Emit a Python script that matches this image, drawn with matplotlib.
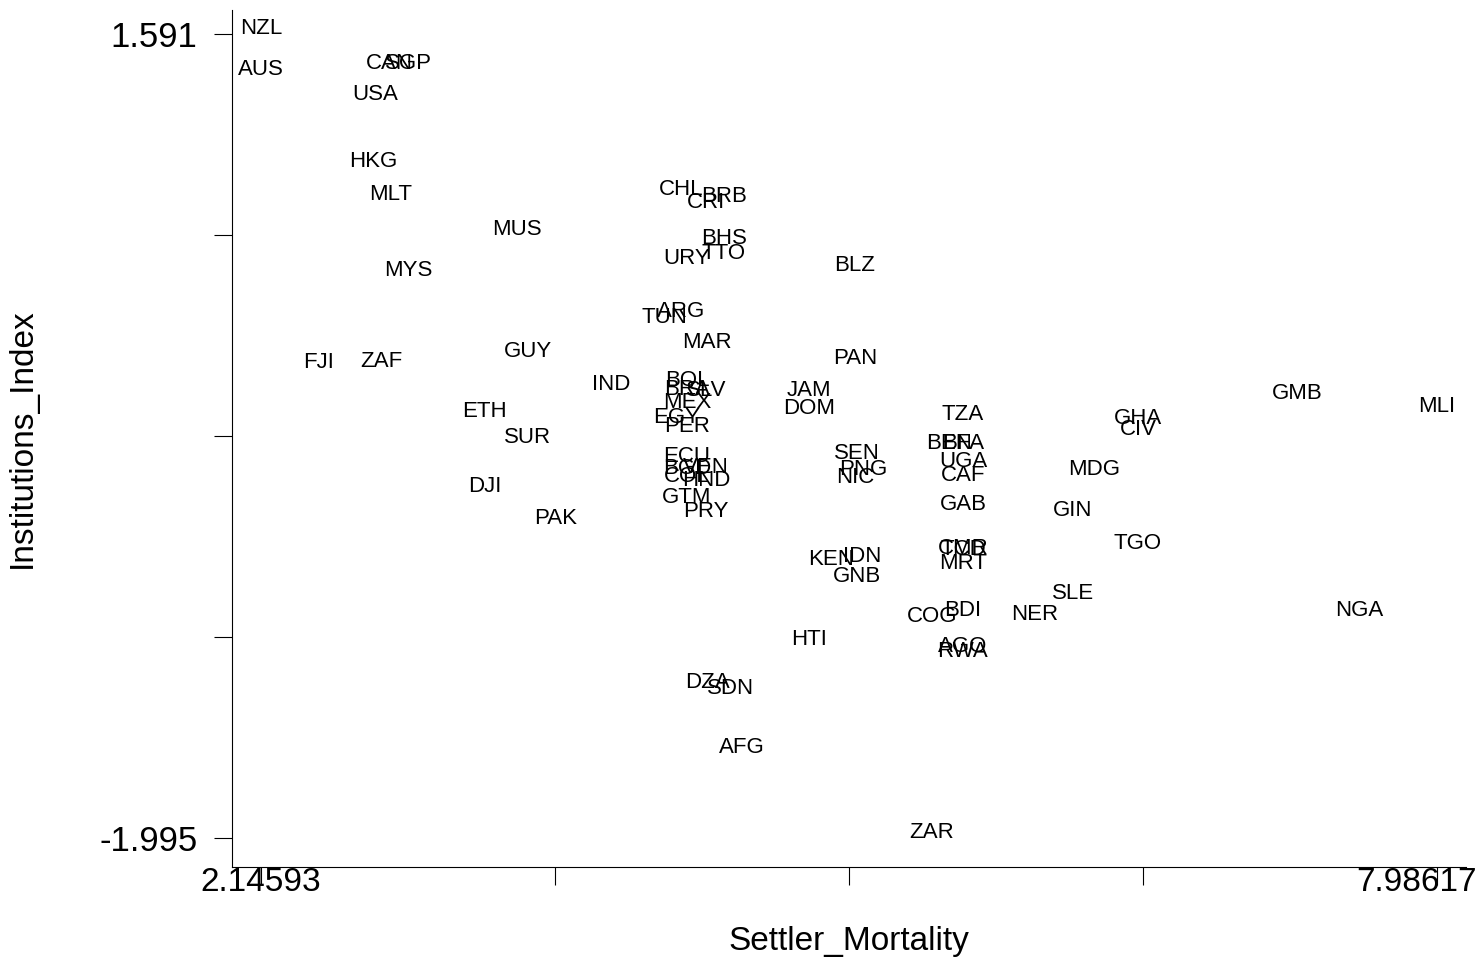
import matplotlib.pyplot as plt
from matplotlib.transforms import ScaledTranslation

plt.rcParams['font.family'] = ['Liberation Sans', 'DejaVu Sans']

# country codes with settler mortality (log) and institutions index
codes = ['NZL', 'AUS', 'CAN', 'SGP', 'USA', 'HKG', 'MLT', 'MUS', 'MYS', 'FJI',
         'ZAF', 'GUY', 'IND', 'ETH', 'SUR', 'DJI', 'PAK', 'CHL', 'BRB', 'CRI',
         'BHS', 'TTO', 'URY', 'ARG', 'TUN', 'MAR', 'BOL', 'BRA', 'SLV', 'MEX',
         'EGY', 'PER', 'ECU', 'BGD', 'VEN', 'COL', 'HND', 'GTM', 'PRY', 'BLZ',
         'PAN', 'JAM', 'DOM', 'SEN', 'PNG', 'NIC', 'KEN', 'IDN', 'GNB', 'HTI',
         'DZA', 'SDN', 'AFG', 'ZAR', 'TZA', 'BEN', 'BFA', 'UGA', 'CAF', 'GAB',
         'CMR', 'TCD', 'MRT', 'COG', 'BDI', 'NER', 'AGO', 'RWA', 'MDG', 'GIN',
         'SLE', 'TGO', 'GHA', 'CIV', 'GMB', 'MLI', 'NGA']

settler_mortality = [2.146, 2.146, 2.782, 2.876, 2.712, 2.702, 2.792, 3.417, 2.876, 2.434,
                     2.742, 3.472, 3.884, 3.258, 3.472, 3.258, 3.611, 4.232, 4.445, 4.356,
                     4.445, 4.445, 4.262, 4.232, 4.147, 4.361, 4.262, 4.262, 4.356, 4.262,
                     4.212, 4.262, 4.262, 4.262, 4.356, 4.262, 4.356, 4.262, 4.356, 5.096,
                     5.096, 4.867, 4.867, 5.106, 5.136, 5.096, 4.977, 5.131, 5.106, 4.867,
                     4.361, 4.480, 4.535, 5.478, 5.632, 5.563, 5.632, 5.632, 5.632, 5.632,
                     5.632, 5.632, 5.632, 5.478, 5.632, 5.990, 5.632, 5.632, 6.283, 6.179,
                     6.179, 6.501, 6.501, 6.501, 7.291, 7.986, 7.599]

institutions = [1.591, 1.408, 1.435, 1.435, 1.297, 0.998, 0.851, 0.695, 0.512, 0.101,
                0.106, 0.150, 0.003, -0.117, -0.233, -0.452, -0.594, 0.873, 0.842, 0.815,
                0.654, 0.588, 0.565, 0.329, 0.302, 0.191, 0.021, -0.019, -0.024, -0.077,
                -0.144, -0.184, -0.318, -0.371, -0.367, -0.407, -0.425, -0.501, -0.563, 0.534,
                0.119, -0.024, -0.104, -0.305, -0.376, -0.412, -0.777, -0.764, -0.853, -1.134,
                -1.326, -1.353, -1.616, -1.995, -0.131, -0.260, -0.260, -0.340, -0.403, -0.532,
                -0.728, -0.733, -0.795, -1.031, -1.005, -1.023, -1.165, -1.188, -0.376, -0.559,
                -0.929, -0.706, -0.148, -0.198, -0.037, -0.095, -1.005]

x_ticks = [2.14593, 3.60599, 5.06605, 6.52611, 7.98617]
x_ticklabels = ['2.14593', '', '', '', '7.98617']
y_ticks = [1.591, 0.6945, -0.2020, -1.0985, -1.995]
y_ticklabels = ['1.591', '', '', '', '-1.995']

fig = plt.figure(figsize=(14.84, 9.57), dpi=100)
ax = fig.add_axes([232 / 1484, 1 - 867 / 957, (1466 - 232) / 1484, (867 - 10) / 957])

for code, xv, yv in zip(codes, settler_mortality, institutions):
    ax.text(xv, yv, code, ha='center', va='baseline', fontsize=16, color='black')

ax.set_xlim(2.0019, 8.1302)
ax.set_ylim(-2.1243, 1.698)

ax.spines['top'].set_visible(False)
ax.spines['right'].set_visible(False)

ax.set_xticks(x_ticks)
ax.set_xticklabels(x_ticklabels, fontsize=24)
ax.set_yticks(y_ticks)
ax.set_yticklabels(y_ticklabels, fontsize=25)
ax.tick_params(axis='x', direction='out', length=13, width=0.8, pad=-13)
ax.tick_params(axis='y', direction='out', length=13, width=0.8, pad=12)

# last x label is pulled inward so it stays on the canvas
last = ax.get_xticklabels()[-1]
last.set_transform(last.get_transform() + ScaledTranslation(-0.20, 0, fig.dpi_scale_trans))

ax.set_xlabel('Settler_Mortality', fontsize=24, labelpad=20)
ax.set_ylabel('Institutions_Index', fontsize=24, labelpad=44)

fig.savefig('out.png', dpi=100, facecolor='white')
